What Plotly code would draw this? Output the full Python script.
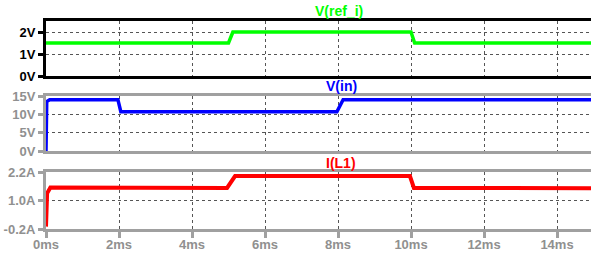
import plotly.graph_objects as go
from plotly.subplots import make_subplots

# ---- data (time in ms) ----
t_ref = [0, 5.0, 5.12, 10.0, 10.1, 15]
v_ref = [1.5, 1.5, 2.0, 2.0, 1.5, 1.5]

t_in = [0, 0.02, 0.1, 1.97, 2.05, 7.97, 8.14, 15]
v_in = [0, 13.5, 14.0, 14.0, 10.7, 10.7, 14.0, 14.0]

t_il = [0, 0.03, 0.12, 2.0, 4.0, 4.96, 5.18, 8.0, 9.97, 10.08, 12.0, 15]
i_l1 = [-0.1, 1.3, 1.55, 1.54, 1.55, 1.53, 2.03, 2.04, 2.03, 1.53, 1.53, 1.52]

x_ticks = [0, 2, 4, 6, 8, 10, 12, 14]
x_labels = ["0ms", "2ms", "4ms", "6ms", "8ms", "10ms", "12ms", "14ms"]
y1_ticks = [0, 1, 2]
y1_labels = ["0V", "1V", "2V"]
y2_ticks = [0, 5, 10, 15]
y2_labels = ["0V", "5V", "10V", "15V"]
y3_ticks = [-0.2, 1.0, 2.2]
y3_labels = ["-0.2A", "1.0A", "2.2A"]

titles = ["V(ref_i)", "V(in)", "I(L1)"]
colors = ["#00ff00", "#0000ff", "#ff0000"]

W, H = 591, 254
fig = make_subplots(rows=3, cols=1, shared_xaxes=False)

fig.add_trace(go.Scatter(x=t_ref, y=v_ref, mode="lines",
                         line=dict(color=colors[0], width=3.5)), row=1, col=1)
fig.add_trace(go.Scatter(x=t_in, y=v_in, mode="lines",
                         line=dict(color=colors[1], width=3.5)), row=2, col=1)
fig.add_trace(go.Scatter(x=t_il, y=i_l1, mode="lines",
                         line=dict(color=colors[2], width=4)), row=3, col=1)

def dom(top_px, bot_px):
    return [(H - bot_px) / H, (H - top_px) / H]

frames = [(21, 76), (96, 151), (172, 229)]
frame_colors = ["#000000", "#a0a0a0", "#a0a0a0"]
label_colors = ["#000000", "#909090", "#909090"]
yt = [(y1_ticks, y1_labels, [0, 2.5]), (y2_ticks, y2_labels, [0, 15]),
      (y3_ticks, y3_labels, [-0.2, 2.2])]

xmax = (W - 46) / 36.5
font = dict(family="Liberation Sans, Arial, sans-serif", size=13)
for i in range(3):
    n = "" if i == 0 else str(i + 1)
    fc = frame_colors[i]
    fig.layout["yaxis" + n].update(
        domain=dom(*frames[i]), range=yt[i][2], tickvals=yt[i][0],
        ticktext=["<b>%s</b>" % s for s in yt[i][1]],
        showgrid=True, gridcolor="#555555", griddash="dot", gridwidth=1,
        showline=True, linecolor=fc, linewidth=3, mirror=False,
        ticks="outside", ticklen=5, tickwidth=3, tickcolor=fc,
        tickfont=dict(font, color=label_colors[i]), zeroline=False,
        automargin=False,
    )
    fig.layout["xaxis" + n].update(
        range=[0, xmax], tickvals=x_ticks,
        ticktext=["<b>%s</b>" % s for s in x_labels],
        showgrid=True, gridcolor="#555555", griddash="dot", gridwidth=1,
        showline=True, linecolor=fc, linewidth=3, mirror=True,
        zeroline=False,
        ticks="outside" if i == 2 else "", ticklen=6, tickwidth=3,
        tickcolor=fc, showticklabels=(i == 2),
        tickfont=dict(font, color=label_colors[i]),
        anchor="y" + n, automargin=False,
    )
fig.layout.xaxis3.ticklabelstandoff = -5

title_pos = [(318, 11), (320, 86), (320, 163)]
for i in range(3):
    fig.add_annotation(x=title_pos[i][0] / W, y=1 - title_pos[i][1] / H,
                       xref="paper", yref="paper", showarrow=False,
                       xanchor="center", yanchor="middle",
                       text="<b>%s</b>" % titles[i],
                       font=dict(family="Liberation Sans, Arial, sans-serif",
                                 size=14, color=colors[i]))

fig.update_layout(width=W, height=H, margin=dict(l=46, r=0, t=0, b=0),
                  showlegend=False, plot_bgcolor="white", paper_bgcolor="white")
fig.write_html("out.html", config={"displayModeBar": False},
               post_script="document.body.style.margin='0';"
                           "document.body.style.overflow='hidden';")
